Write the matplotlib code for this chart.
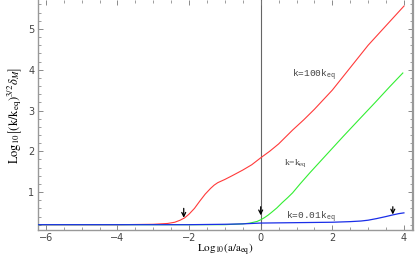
import matplotlib
matplotlib.use("Agg")
import matplotlib.pyplot as plt
from matplotlib.ticker import MultipleLocator

plt.rcParams['mathtext.fontset'] = 'stix'

# Data
red_x = [-6.2, -4.0, -3.0, -2.6, -2.4, -2.25, -2.12, -2.0, -1.85, -1.7, -1.55, -1.4, -1.3, -1.2,
         -1.1, -1.0, -0.8, -0.5, -0.25, 0.0, 0.25, 0.5, 0.89, 1.2, 1.5, 2.0, 2.5, 3.0, 3.5, 4.0]
red_y = [0.2, 0.2, 0.21, 0.23, 0.26, 0.31, 0.37, 0.46, 0.6, 0.78, 0.95, 1.09, 1.17, 1.23,
         1.27, 1.31, 1.4, 1.54, 1.67, 1.84, 2.0, 2.18, 2.52, 2.77, 3.03, 3.5, 4.05, 4.6, 5.08, 5.56]

green_x = [-6.2, -2.0, -1.0, -0.5, -0.3, -0.1, 0.0, 0.1, 0.2, 0.3, 0.45, 0.6, 0.75, 0.89, 1.1,
           1.37, 1.84, 2.3, 2.77, 3.2, 3.6, 3.97]
green_y = [0.2, 0.2, 0.2, 0.22, 0.24, 0.28, 0.32, 0.37, 0.43, 0.5, 0.61, 0.74, 0.86, 0.98, 1.2,
           1.47, 1.92, 2.36, 2.8, 3.2, 3.58, 3.92]

blue_x = [-6.2, -2.0, -1.0, -0.5, 0.0, 1.0, 2.0, 2.5, 2.8, 3.0, 3.24, 3.5, 3.69, 3.85, 4.0]
blue_y = [0.2, 0.2, 0.21, 0.22, 0.24, 0.25, 0.26, 0.275, 0.29, 0.31, 0.35, 0.4, 0.44, 0.47, 0.49]

arrow_x = [-2.15, 0.0, 3.69]
arrow_top = [0.6, 0.64, 0.64]
arrow_tip = [0.37, 0.43, 0.45]

labels = [r'k=100k$_{\mathregular{eq}}$', r'k=k$_{\mathregular{eq}}$', r'k=0.01k$_{\mathregular{eq}}$']
label_x = [1.5, 0.98, 1.4]
label_y = [3.87, 1.72, 0.40]

fig = plt.figure(figsize=(4.2, 2.59), dpi=100)
ax = fig.add_axes([0.0905, 0.112, 0.8925, 0.888])

ax.axvline(0, color='#666666', lw=0.8, zorder=1)
ax.plot(red_x, red_y, color='#ff3a3a', lw=0.8, zorder=2)
ax.plot(green_x, green_y, color='#33ee33', lw=0.8, zorder=3)
ax.plot(blue_x, blue_y, color='#1a2ee8', lw=0.9, zorder=4)

for x, t, b in zip(arrow_x, arrow_top, arrow_tip):
    ax.annotate('', xy=(x, b), xytext=(x, t),
                arrowprops=dict(arrowstyle='->', color='black', lw=0.9,
                                shrinkA=0, shrinkB=0, mutation_scale=7), zorder=5)

for i, (s, x, y) in enumerate(zip(labels, label_x, label_y)):
    fam = 'Liberation Serif' if i == 1 else 'Liberation Mono'
    ax.text(x, y, s, fontsize=6.8, color='#444444', ha='center', va='center',
            family=fam)

ax.set_xlim(-6.22, 4.25)
ax.set_ylim(0.07, 5.71)
ax.xaxis.set_major_locator(MultipleLocator(2))
ax.xaxis.set_minor_locator(MultipleLocator(0.5))
ax.yaxis.set_minor_locator(MultipleLocator(0.2))
ax.set_yticks([1, 2, 3, 4, 5])

for sp in ax.spines.values():
    sp.set_color('#999999')
    sp.set_linewidth(1.0)
ax.spines['right'].set_linewidth(1.6)
ax.spines['top'].set_visible(False)

ax.tick_params(which='both', direction='in', top=True, right=True,
               color='#777777', labelcolor='#444444', labelsize=7, pad=2.5)
ax.tick_params(which='major', length=3.5, width=0.6)
ax.tick_params(which='minor', length=2, width=0.5)

ax.set_xlabel(r'$\mathrm{Log}_{10}(\mathrm{a/a_{eq}})$', fontsize=8)
ax.xaxis.set_label_coords(0.5, -0.05)
ax.set_ylabel(r'$\mathrm{Log}_{10}\left[(\mathrm{k/k_{eq}})^{3/2}\delta_M\right]$',
              fontsize=9, labelpad=3)

fig.savefig('out.png', dpi=100)
